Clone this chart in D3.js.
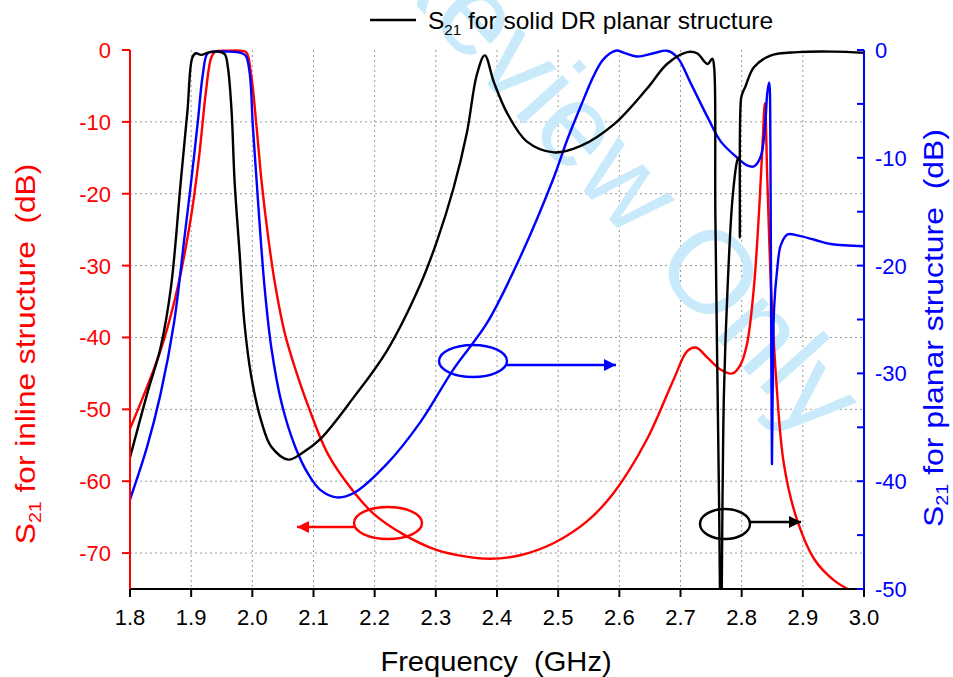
<!DOCTYPE html>
<html>
<head>
<meta charset="utf-8">
<script src="https://cdn.jsdelivr.net/npm/d3@7"></script>
<style>
  body { margin: 0; background: #fff; }
  svg { font-family: "Liberation Sans", Arial, sans-serif; }
</style>
</head>
<body>
<div id="chart"></div>
<script>
// tick values
const xTicks = [1.8, 1.9, 2.0, 2.1, 2.2, 2.3, 2.4, 2.5, 2.6, 2.7, 2.8, 2.9, 3.0];
const leftTicks = [0, -10, -20, -30, -40, -50, -60, -70];
const rightTicks = [0, -10, -20, -30, -40, -50];
const rightMinor = [-5, -15, -25, -35, -45];

// red: S21 inline structure (left axis, dB)
const redF = [1.80, 1.85, 1.878, 1.90, 1.913, 1.924, 1.933, 1.94, 1.96, 1.98, 1.99, 1.998, 2.007, 2.015, 2.026, 2.037, 2.053, 2.07, 2.092, 2.124, 2.166, 2.198, 2.247, 2.302, 2.35, 2.389, 2.438, 2.493, 2.547, 2.591, 2.645, 2.689, 2.711, 2.725, 2.744, 2.766, 2.785, 2.798, 2.809, 2.82, 2.828, 2.834, 2.838, 2.842, 2.848, 2.856, 2.869, 2.891, 2.919, 2.951, 2.98];
const redDb = [-52.7, -41.8, -33.0, -23.1, -14.8, -5.9, -1.0, -0.2, -0.1, -0.1, -0.3, -3.4, -10.8, -18.2, -26.1, -32.5, -39.4, -44.3, -49.7, -56.3, -61.5, -64.5, -67.4, -69.6, -70.5, -70.8, -70.3, -68.6, -65.6, -61.6, -54.2, -45.8, -41.9, -41.4, -42.8, -44.5, -45.0, -43.8, -40.8, -33.0, -23.1, -13.3, -7.4, -18.2, -33.0, -45.3, -57.6, -65.5, -70.9, -73.8, -75.3];

// blue: S21 planar structure (right axis, dB)
const blueF = [1.80, 1.828, 1.85, 1.872, 1.889, 1.90, 1.911, 1.919, 1.927, 1.94, 1.96, 1.975, 1.985, 1.99, 1.996, 2.001, 2.009, 2.02, 2.031, 2.048, 2.07, 2.092, 2.111, 2.138, 2.166, 2.22, 2.275, 2.329, 2.384, 2.438, 2.493, 2.515, 2.537, 2.558, 2.572, 2.585, 2.596, 2.607, 2.629, 2.656, 2.678, 2.695, 2.716, 2.744, 2.766, 2.793, 2.809, 2.82, 2.831, 2.838, 2.842, 2.845, 2.847, 2.848, 2.8495, 2.851, 2.853, 2.858, 2.864, 2.875, 2.891, 2.919, 2.946, 3.0];
const blueDb = [-41.7, -36.8, -31.9, -25.3, -17.4, -12.2, -6.6, -2.3, -0.3, -0.15, -0.15, -0.2, -0.35, -0.6, -2.3, -7.2, -13.8, -22.0, -27.6, -32.8, -36.8, -39.4, -40.8, -41.5, -41.1, -38.4, -34.5, -29.6, -25.3, -19.2, -11.8, -8.3, -5.2, -2.4, -1.0, -0.3, -0.05, -0.25, -0.6, -0.3, -0.07, -0.7, -3.0, -6.2, -8.5, -10.0, -10.7, -10.8, -9.9, -7.2, -3.9, -3.0, -8.9, -22.0, -38.4, -30.0, -24.0, -20.4, -18.1, -17.1, -17.2, -17.6, -18.0, -18.2];

// black: S21 solid DR planar structure (right axis, dB)
const blackF = [1.80, 1.828, 1.85, 1.867, 1.883, 1.894, 1.902, 1.908, 1.916, 1.93, 1.945, 1.955, 1.96, 1.966, 1.971, 1.979, 1.987, 1.998, 2.015, 2.031, 2.059, 2.081, 2.111, 2.166, 2.22, 2.275, 2.302, 2.329, 2.351, 2.367, 2.38, 2.395, 2.417, 2.449, 2.493, 2.537, 2.591, 2.645, 2.678, 2.711, 2.727, 2.744, 2.752, 2.755, 2.757, 2.763, 2.766, 2.769, 2.771, 2.777, 2.785, 2.793, 2.795, 2.797, 2.799, 2.802, 2.806, 2.82, 2.848, 2.891, 2.95, 3.0];
const blackDb = [-37.8, -31.9, -27.6, -22.0, -12.2, -5.6, -0.7, -0.3, -0.45, -0.2, -0.15, -0.4, -1.6, -5.6, -12.2, -18.7, -25.3, -30.2, -34.5, -36.8, -38.0, -37.4, -36.1, -32.2, -27.9, -21.7, -17.7, -12.8, -7.6, -2.3, -0.5, -3.0, -5.9, -8.5, -9.5, -8.9, -6.9, -3.6, -1.3, -0.2, -0.3, -1.3, -0.8, -1.6, -15.4, -41.7, -56, -40, -31.9, -22.0, -13.8, -10.2, -10.0, -17.4, -4.5, -3.9, -3.4, -1.6, -0.5, -0.2, -0.15, -0.26];

const W = 953, H = 677;
const margin = { top: 50, right: 89, bottom: 88, left: 130 };

const svg = d3.select('#chart').append('svg')
  .attr('width', W)
  .attr('height', H);

const x = d3.scaleLinear().domain([1.8, 3.0]).range([margin.left, W - margin.right]);
const yL = d3.scaleLinear().domain([-75, 0]).range([H - margin.bottom, margin.top]);
const yR = d3.scaleLinear().domain([-50, 0]).range([H - margin.bottom, margin.top]);

const x0 = x.range()[0], x1 = x.range()[1];
const yTop = margin.top, yBot = H - margin.bottom;

// grid
const grid = svg.append('g')
  .attr('stroke', '#9a9a9a')
  .attr('stroke-width', 1)
  .attr('stroke-dasharray', '2,3');
grid.selectAll('line.gx')
  .data(xTicks.slice(1, -1))
  .enter().append('line')
  .attr('x1', d => x(d)).attr('x2', d => x(d))
  .attr('y1', yTop).attr('y2', yBot);
grid.selectAll('line.gy')
  .data(leftTicks.slice(1))
  .enter().append('line')
  .attr('x1', x0).attr('x2', x1)
  .attr('y1', d => yL(d)).attr('y2', d => yL(d));

// watermark
svg.append('text')
  .attr('transform', 'translate(372,-44) rotate(48)')
  .attr('font-size', 117)
  .attr('fill', '#c8eafa')
  .text('Review Only');

// curves
svg.append('clipPath').attr('id', 'clip')
  .append('rect')
  .attr('x', x0).attr('y', yTop - 10)
  .attr('width', x1 - x0).attr('height', yBot - yTop + 10);

const plot = svg.append('g').attr('clip-path', 'url(#clip)');

function addCurve(fs, dbs, yScale, color) {
  const pts = fs.map((f, i) => [f, dbs[i]]);
  const line = d3.line()
    .x(d => x(d[0]))
    .y(d => yScale(d[1]))
    .curve(d3.curveCatmullRom.alpha(0.5));
  plot.append('path')
    .datum(pts)
    .attr('fill', 'none')
    .attr('stroke', color)
    .attr('stroke-width', 2.4)
    .attr('stroke-linejoin', 'round')
    .attr('d', line);
}

addCurve(redF, redDb, yL, '#ff0000');
addCurve(blueF, blueDb, yR, '#0000ff');
addCurve(blackF, blackDb, yR, '#000000');

// bottom axis
const xAxis = svg.append('g');
xAxis.append('line')
  .attr('x1', x0).attr('x2', x1)
  .attr('y1', yBot).attr('y2', yBot)
  .attr('stroke', '#000').attr('stroke-width', 2);
xAxis.selectAll('line.t')
  .data(xTicks)
  .enter().append('line')
  .attr('x1', d => x(d)).attr('x2', d => x(d))
  .attr('y1', yBot).attr('y2', yBot + 8)
  .attr('stroke', '#000').attr('stroke-width', 2);
xAxis.selectAll('text')
  .data(xTicks)
  .enter().append('text')
  .attr('x', d => x(d))
  .attr('y', yBot + 36)
  .attr('text-anchor', 'middle')
  .attr('font-size', 22)
  .text(d => d.toFixed(1));

// left axis (red)
const lAxis = svg.append('g');
lAxis.append('line')
  .attr('x1', x0).attr('x2', x0)
  .attr('y1', yTop).attr('y2', yBot)
  .attr('stroke', '#ff0000').attr('stroke-width', 2);
lAxis.selectAll('line.t')
  .data(leftTicks)
  .enter().append('line')
  .attr('x1', x0 - 8).attr('x2', x0)
  .attr('y1', d => yL(d)).attr('y2', d => yL(d))
  .attr('stroke', '#ff0000').attr('stroke-width', 2);
lAxis.selectAll('text')
  .data(leftTicks)
  .enter().append('text')
  .attr('x', x0 - 19)
  .attr('y', d => yL(d) + 8)
  .attr('text-anchor', 'end')
  .attr('font-size', 22)
  .attr('fill', '#ff0000')
  .text(d => d);

// right axis (blue)
const rAxis = svg.append('g');
rAxis.append('line')
  .attr('x1', x1).attr('x2', x1)
  .attr('y1', yTop).attr('y2', yBot)
  .attr('stroke', '#0000ff').attr('stroke-width', 2);
rAxis.selectAll('line.t')
  .data(rightTicks.concat(rightMinor))
  .enter().append('line')
  .attr('x1', x1 - 7).attr('x2', x1)
  .attr('y1', d => yR(d)).attr('y2', d => yR(d))
  .attr('stroke', '#0000ff').attr('stroke-width', 2);
rAxis.selectAll('text')
  .data(rightTicks)
  .enter().append('text')
  .attr('x', x1 + 11)
  .attr('y', d => yR(d) + 8)
  .attr('font-size', 22)
  .attr('fill', '#0000ff')
  .text(d => d);

// axis titles
function title(g, main, rest, sub) {
  g.append('tspan').text(main);
  g.append('tspan').attr('font-size', '62%').attr('dy', sub).text('21');
  g.append('tspan').attr('dy', -sub).text(rest);
}

const lt = svg.append('text')
  .attr('transform', 'translate(35,354) rotate(-90) scale(1.13,1)')
  .attr('text-anchor', 'middle')
  .attr('font-size', 28)
  .attr('fill', '#ff0000')
  .style('white-space', 'pre');
title(lt, 'S', ' for inline structure  (dB)', 6);

const rt = svg.append('text')
  .attr('transform', 'translate(943,328) rotate(-90) scale(1.14,1)')
  .attr('text-anchor', 'middle')
  .attr('font-size', 28)
  .attr('fill', '#0000ff')
  .style('white-space', 'pre');
title(rt, 'S', ' for planar structure  (dB)', 5);

svg.append('text')
  .attr('transform', 'translate(496,671) scale(1.04,1)')
  .attr('text-anchor', 'middle')
  .attr('font-size', 28)
  .style('white-space', 'pre')
  .text('Frequency  (GHz)');

// legend
svg.append('line')
  .attr('x1', 370).attr('x2', 416)
  .attr('y1', 20).attr('y2', 20)
  .attr('stroke', '#000').attr('stroke-width', 2.5);
const lg = svg.append('text')
  .attr('x', 428).attr('y', 29)
  .attr('font-size', 24.5)
  .style('white-space', 'pre');
title(lg, 'S', ' for solid DR planar structure', 6);

// annotations: ellipses with arrows
const defs = svg.append('defs');
[['arrR', '#ff0000'], ['arrB', '#0000ff'], ['arrK', '#000000']].forEach(a => {
  defs.append('marker')
    .attr('id', a[0])
    .attr('viewBox', '0 0 10 10')
    .attr('refX', 10).attr('refY', 5)
    .attr('markerWidth', 7).attr('markerHeight', 5)
    .attr('markerUnits', 'strokeWidth')
    .attr('orient', 'auto')
    .append('path')
    .attr('d', 'M0,0 L10,5 L0,10 z')
    .attr('fill', a[1]);
});

const notes = [
  { cx: 473, cy: 361, rx: 34, ry: 16, lx1: 506, lx2: 616, ly: 365, color: '#0000ff', m: 'arrB' },
  { cx: 388, cy: 523, rx: 34, ry: 16, lx1: 354, lx2: 297, ly: 527, color: '#ff0000', m: 'arrR' },
  { cx: 725, cy: 524, rx: 25, ry: 15, lx1: 750, lx2: 801, ly: 522, color: '#000000', m: 'arrK' }
];
notes.forEach(n => {
  svg.append('ellipse')
    .attr('cx', n.cx).attr('cy', n.cy)
    .attr('rx', n.rx).attr('ry', n.ry)
    .attr('fill', 'none')
    .attr('stroke', n.color).attr('stroke-width', 2.4);
  svg.append('line')
    .attr('x1', n.lx1).attr('x2', n.lx2)
    .attr('y1', n.ly).attr('y2', n.ly)
    .attr('stroke', n.color).attr('stroke-width', 2.4)
    .attr('marker-end', 'url(#' + n.m + ')');
});
</script>
</body>
</html>
